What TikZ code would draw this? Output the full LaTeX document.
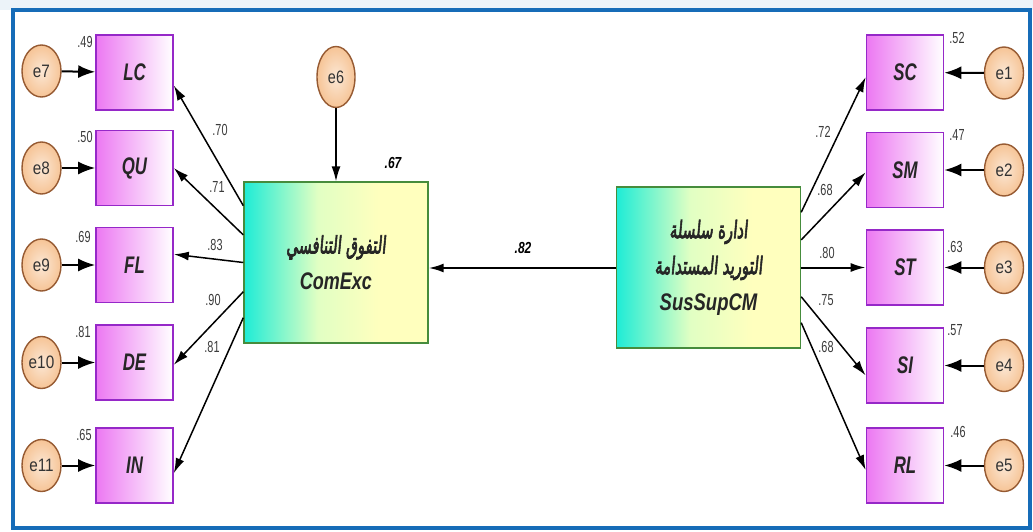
\documentclass[tikz,border=0pt]{standalone}
\usepackage{fontspec}
\usepackage{graphicx}
\setmainfont{Liberation Sans}
\newfontfamily\arabicfont[Script=Arabic,FakeBold=3.5,FakeSlant=0.15]{DejaVu Sans}
\TeXXeTstate=1
\usetikzlibrary{arrows.meta,calc,shapes.geometric}

\definecolor{frameblue}{RGB}{22,108,184}
\definecolor{obsline}{RGB}{150,40,200}
\definecolor{obsleft}{RGB}{236,120,242}
\definecolor{latline}{RGB}{70,140,60}
\definecolor{latleft}{RGB}{30,236,214}
\definecolor{latmid}{RGB}{225,255,195}
\definecolor{latright}{RGB}{255,255,190}
\definecolor{errline}{RGB}{150,90,50}
\definecolor{errfill}{RGB}{246,196,150}
\definecolor{coefgray}{RGB}{60,60,60}

\pgfdeclarehorizontalshading{latshade}{100bp}{color(0bp)=(latleft); color(25bp)=(latleft); color(45bp)=(latmid); color(62bp)=(latright); color(100bp)=(latright)}

\newcommand\narrowtxt[2]{\scalebox{#1}[1]{#2}}
\newcommand\arabtxt[1]{\narrowtxt{0.62}{\arabicfont\mdseries\upshape\beginR #1\endR}}

\tikzset{
  obsbox/.style={draw=obsline, line width=1.6pt, minimum width=77pt, minimum height=75pt,
    left color=obsleft, right color=white, inner sep=0pt,
    font=\fontsize{24}{24}\selectfont\bfseries\itshape, text=black!85},
  latbox/.style={draw=latline, line width=1.4pt, minimum width=184pt, minimum height=161pt,
    shading=latshade, align=center,
    font=\fontsize{24}{36}\selectfont\bfseries\itshape, text=black!85},
  errnode/.style={ellipse, draw=errline, line width=1.4pt, minimum width=39pt, minimum height=52pt,
    inner sep=0pt, inner color=errfill!40, outer color=errfill,
    font=\fontsize{18}{18}\selectfont, text=black!80},
  coef/.style={font=\fontsize{16}{16}\selectfont, text=coefgray, inner sep=0pt},
  boldcoef/.style={font=\fontsize{16}{16}\selectfont\bfseries\itshape, inner sep=0pt},
  errarr/.style={line width=2pt, -{Latex[length=17pt,width=13pt]}},
  patharr/.style={line width=1.5pt, -{Latex[length=15pt,width=9pt]}},
}

\begin{document}
\begin{tikzpicture}[x=1pt,y=-1pt]
  %%%%% FRAME %%%%%
  \useasboundingbox (0,0) rectangle (1033,532);
  \fill[white] (0,0) rectangle (1033,532);
  \fill[frameblue!8] (0,0) rectangle (1033,10);
  \draw[line width=4pt, draw=frameblue, fill=white] (13,10) rectangle (1030,528);

  %%%%% LATENT %%%%%
  \node[latbox] (com) at (336,262.5) {\arabtxt{التفوق التنافسي}\\ \narrowtxt{0.75}{ComExc}};
  \node[latbox] (sus) at (708.5,267.5) {\arabtxt{ادارة سلسلة}\\ \arabtxt{التوريد المستدامة}\\ \narrowtxt{0.77}{SusSupCM}};
  \node[errnode, minimum height=61pt, minimum width=38pt] (e6) at (336,77) {\narrowtxt{0.8}{e6}};

  %%%%% LEFT INDICATORS %%%%%
  \node[obsbox] (lc) at (134.5,72.5) {\narrowtxt{0.7}{LC}};
  \node[obsbox] (qu) at (134.5,168) {\narrowtxt{0.7}{QU}};
  \node[obsbox] (fl) at (134.5,265) {\narrowtxt{0.7}{FL}};
  \node[obsbox] (de) at (134.5,362.5) {\narrowtxt{0.7}{DE}};
  \node[obsbox] (in) at (134.5,465.5) {\narrowtxt{0.7}{IN}};

  \node[errnode] (e7) at (41.5,71) {\narrowtxt{0.85}{e7}};
  \node[errnode] (e8) at (41.5,168) {\narrowtxt{0.85}{e8}};
  \node[errnode] (e9) at (41.5,265) {\narrowtxt{0.85}{e9}};
  \node[errnode] (e10) at (41.5,362.5) {\narrowtxt{0.85}{e10}};
  \node[errnode] (e11) at (41.5,465.5) {\narrowtxt{0.85}{e11}};

  %%%%% RIGHT INDICATORS %%%%%
  \node[obsbox] (sc) at (905,72.5) {\narrowtxt{0.7}{SC}};
  \node[obsbox] (sm) at (905,170) {\narrowtxt{0.7}{SM}};
  \node[obsbox] (st) at (905,267.5) {\narrowtxt{0.7}{ST}};
  \node[obsbox] (si) at (905,365.5) {\narrowtxt{0.7}{SI}};
  \node[obsbox] (rl) at (905,465.5) {\narrowtxt{0.7}{RL}};

  \node[errnode] (e1) at (1004,73) {\narrowtxt{0.85}{e1}};
  \node[errnode] (e2) at (1004,170) {\narrowtxt{0.85}{e2}};
  \node[errnode] (e3) at (1004,267.5) {\narrowtxt{0.85}{e3}};
  \node[errnode] (e4) at (1004,365.5) {\narrowtxt{0.85}{e4}};
  \node[errnode] (e5) at (1004,465.5) {\narrowtxt{0.85}{e5}};

  %%%%% ERROR ARROWS %%%%%
  \draw[errarr] (e7) -- (lc);
  \draw[errarr] (e8) -- (qu);
  \draw[errarr] (e9) -- (fl);
  \draw[errarr] (e10) -- (de);
  \draw[errarr] (e11) -- (in);
  \draw[errarr] (e1) -- (sc);
  \draw[errarr] (e2) -- (sm);
  \draw[errarr] (e3) -- (st);
  \draw[errarr] (e4) -- (si);
  \draw[errarr] (e5) -- (rl);
  \draw[patharr] (e6) -- (com);

  %%%%% PATHS %%%%%
  \draw[patharr] ($(com.north west)!.15!(com.south west)$) -- ($(lc.north east)!.67!(lc.south east)$);
  \draw[patharr] ($(com.north west)!.33!(com.south west)$) -- ($(qu.north east)!.5!(qu.south east)$);
  \draw[patharr] ($(com.north west)!.5!(com.south west)$) -- ($(fl.north east)!.36!(fl.south east)$);
  \draw[patharr] ($(com.north west)!.68!(com.south west)$) -- ($(de.north east)!.53!(de.south east)$);
  \draw[patharr] ($(com.north west)!.84!(com.south west)$) -- ($(in.north east)!.6!(in.south east)$);

  \draw[patharr] ($(sus.north east)!.16!(sus.south east)$) -- ($(sc.north west)!.56!(sc.south west)$);
  \draw[patharr] ($(sus.north east)!.33!(sus.south east)$) -- ($(sm.north west)!.53!(sm.south west)$);
  \draw[patharr, line width=2pt] ($(sus.north east)!.5!(sus.south east)$) -- ($(st.north west)!.5!(st.south west)$);
  \draw[patharr] ($(sus.north east)!.68!(sus.south east)$) -- ($(si.north west)!.63!(si.south west)$);
  \draw[patharr] ($(sus.north east)!.84!(sus.south east)$) -- ($(rl.north west)!.56!(rl.south west)$);

  \draw[patharr, line width=2pt] (sus.west |- 0,268) -- (com.east |- 0,268);

  %%%%% LABELS %%%%%
  \node[coef] at (85,42) {\narrowtxt{0.68}{.49}};
  \node[coef] at (85,137) {\narrowtxt{0.68}{.50}};
  \node[coef] at (83,237) {\narrowtxt{0.68}{.69}};
  \node[coef] at (83,332) {\narrowtxt{0.68}{.81}};
  \node[coef] at (84,435) {\narrowtxt{0.68}{.65}};

  \node[coef] at (957,38) {\narrowtxt{0.68}{.52}};
  \node[coef] at (957,135) {\narrowtxt{0.68}{.47}};
  \node[coef] at (955,247) {\narrowtxt{0.68}{.63}};
  \node[coef] at (955,330) {\narrowtxt{0.68}{.57}};
  \node[coef] at (958,432) {\narrowtxt{0.68}{.46}};

  \node[coef] at (220,130) {\narrowtxt{0.68}{.70}};
  \node[coef] at (217,187) {\narrowtxt{0.68}{.71}};
  \node[coef] at (215,245) {\narrowtxt{0.68}{.83}};
  \node[coef] at (213,300) {\narrowtxt{0.68}{.90}};
  \node[coef] at (212,347) {\narrowtxt{0.68}{.81}};

  \node[coef] at (823,132) {\narrowtxt{0.68}{.72}};
  \node[coef] at (825,190) {\narrowtxt{0.68}{.68}};
  \node[coef] at (827,253) {\narrowtxt{0.68}{.80}};
  \node[coef] at (826,300) {\narrowtxt{0.68}{.75}};
  \node[coef] at (826,347) {\narrowtxt{0.68}{.68}};

  \node[boldcoef] at (393,163) {\narrowtxt{0.75}{.67}};
  \node[boldcoef] at (523,248) {\narrowtxt{0.75}{.82}};
\end{tikzpicture}
\end{document}
